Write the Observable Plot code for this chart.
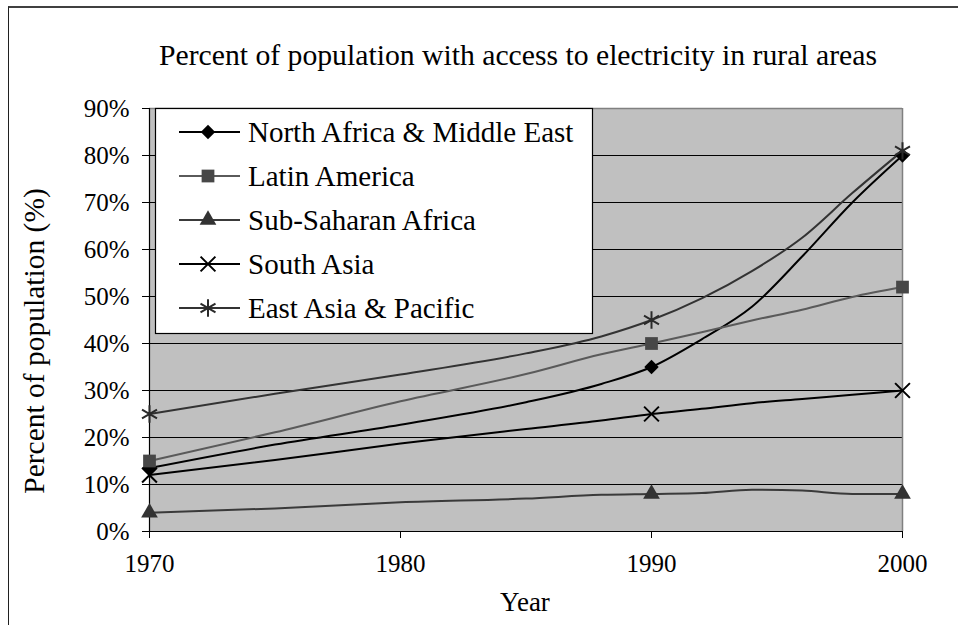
<!DOCTYPE html>
<html>
<head>
<meta charset="utf-8">
<script src="https://cdn.jsdelivr.net/npm/d3@7"></script>
<script src="https://cdn.jsdelivr.net/npm/@observablehq/plot@0.6"></script>
<style>
  html, body { margin: 0; padding: 0; background: #fff; overflow: hidden; }
  #page { position: relative; width: 958px; height: 625px; overflow: hidden; font-family: "Liberation Serif", "Times New Roman", serif; }
  #frame { position: absolute; left: 8px; top: 6px; width: 1000px; height: 700px; border-top: 2px solid #404040; border-left: 1.5px solid #202020; box-sizing: border-box; }
  #titleBox { position: relative; height: 80px; }
  #title { position: absolute; top: 41px; left: 518px; transform: translateX(-50%); white-space: nowrap; font-size: 29.7px; line-height: 29px; color: #000; }
  #chart { position: relative; }
</style>
</head>
<body>
<div id="page">
  <div id="frame"></div>
  <div id="titleBox"><div id="title">Percent of population with access to electricity in rural areas</div></div>
  <div id="chart"></div>
</div>
<script>
// ---- data ----
const years = [1970, 1975, 1980, 1985, 1988, 1990, 1992, 1994, 1996, 1998, 2000];
const seriesNames = ["North Africa & Middle East", "Latin America", "Sub-Saharan Africa", "South Asia", "East Asia & Pacific"];
const northAfricaMiddleEast = [13.5, 18.5, 22.7, 27.5, 31.4, 35, 40.9, 47.8, 58.5, 70, 80];
const latinAmerica = [15, 21.1, 27.7, 33.5, 37.7, 40, 42.4, 44.9, 47.2, 49.9, 52];
const subSaharanAfrica = [4, 4.9, 6.2, 7.0, 7.8, 8, 8.2, 8.9, 8.7, 8.0, 8];
const southAsia = [12, 15.2, 18.7, 21.8, 23.6, 25, 26.1, 27.3, 28.2, 29.1, 30];
const eastAsiaPacific = [25, 29.3, 33.4, 37.9, 41.5, 45, 49.6, 55.4, 62.5, 72, 81];
const markerYears = [1970, 1990, 2000];
const xTicks = [1970, 1980, 1990, 2000];
const yTicks = [0, 10, 20, 30, 40, 50, 60, 70, 80, 90];
const chartTitle = "Percent of population with access to electricity in rural areas";
const xTitle = "Year";
const yTitle = "Percent of population (%)";

// ---- styles ----
const seriesValues = [northAfricaMiddleEast, latinAmerica, subSaharanAfrica, southAsia, eastAsiaPacific];
const styles = {
  "North Africa & Middle East": {line: "#000000", mark: "#000000", symbol: "diamond2", r: 6.5, stroked: false},
  "Latin America": {line: "#5a5a5a", mark: "#474747", symbol: "square", r: 7.2, stroked: false},
  "Sub-Saharan Africa": {line: "#3a3a3a", mark: "#333333", symbol: "triangle", r: 6.2, stroked: false},
  "South Asia": {line: "#000000", mark: "#000000", symbol: "times", r: 6.8, stroked: true},
  "East Asia & Pacific": {line: "#333333", mark: "#2a2a2a", symbol: "asterisk", r: 8.2, stroked: true}
};
const d3Symbols = {diamond2: d3.symbolDiamond2, square: d3.symbolSquare, triangle: d3.symbolTriangle, times: d3.symbolTimes, asterisk: d3.symbolAsterisk};

document.getElementById("title").textContent = chartTitle;

const rows = seriesNames.flatMap((name, i) => years.map((year, j) => ({series: name, year, value: seriesValues[i][j]})));
const markerRows = rows.filter(d => markerYears.includes(d.year));

const lineMarks = seriesNames.map(name => Plot.line(rows.filter(d => d.series === name), {
  x: "year", y: "value", stroke: styles[name].line, strokeWidth: 2, curve: "monotone-x"
}));
const dotMarks = seriesNames.map(name => {
  const s = styles[name];
  return Plot.dot(markerRows.filter(d => d.series === name), s.stroked
    ? {x: "year", y: "value", symbol: s.symbol, r: s.r, stroke: s.mark, strokeWidth: 2, fill: "none"}
    : {x: "year", y: "value", symbol: s.symbol, r: s.r, fill: s.mark, stroke: "none"});
});

const chart = Plot.plot({
  width: 958,
  height: 545,
  marginLeft: 149,
  marginRight: 56,
  marginTop: 28,
  marginBottom: 94,
  style: {fontFamily: "'Liberation Serif', 'Times New Roman', serif", fontSize: "25px", color: "#000", background: "transparent", overflow: "visible"},
  x: {domain: [1970, 2000]},
  y: {domain: [0, 90]},
  marks: [
    Plot.frame({fill: "#c0c0c0", stroke: null}),
    Plot.ruleY(yTicks.filter(t => t > 0 && t < 90), {stroke: "#000", strokeWidth: 1}),
    Plot.ruleY([90], {stroke: "#808080", strokeWidth: 1.5}),
    Plot.ruleX([2000], {stroke: "#808080", strokeWidth: 1.5}),
    Plot.ruleY([0], {stroke: "#000", strokeWidth: 1.2}),
    Plot.ruleX([1970], {stroke: "#000", strokeWidth: 1.2}),
    Plot.axisY({ticks: yTicks, tickSize: 7, tickPadding: 13, label: null, tickFormat: d => d + "%", fontSize: 25, stroke: "#000"}),
    Plot.axisX({ticks: xTicks, tickSize: 7, tickPadding: 16, label: null, tickFormat: d => String(d), fontSize: 25, stroke: "#000"}),
    ...lineMarks,
    ...dotMarks
  ]
});
document.getElementById("chart").appendChild(chart);

// ---- legend and axis titles ----
const svg = d3.select(chart);
const lg = svg.append("g").attr("font-family", "'Liberation Serif', 'Times New Roman', serif").attr("text-anchor", "start");
lg.append("rect").attr("x", 155.5).attr("y", 28.5).attr("width", 437).attr("height", 225)
  .attr("fill", "#fff").attr("stroke", "#000").attr("stroke-width", 1.2);
seriesNames.forEach((name, i) => {
  const s = styles[name];
  const cy = 52 + i * 44;
  lg.append("line").attr("x1", 179).attr("x2", 240).attr("y1", cy).attr("y2", cy)
    .attr("stroke", s.line).attr("stroke-width", 2);
  const p = lg.append("path").attr("transform", `translate(208,${cy})`)
    .attr("d", d3.symbol(d3Symbols[s.symbol], Math.PI * s.r * s.r)());
  if (s.stroked) p.attr("fill", "none").attr("stroke", s.mark).attr("stroke-width", 2);
  else p.attr("fill", s.mark);
  lg.append("text").attr("x", 248).attr("y", cy).attr("dy", "0.35em").attr("text-anchor", "start")
    .attr("font-size", 29).attr("fill", "#000").text(name);
});
svg.append("text").attr("x", 525).attr("y", 522).attr("dy", "0.35em").attr("text-anchor", "middle")
  .attr("font-family", "'Liberation Serif', 'Times New Roman', serif").attr("font-size", 27).attr("fill", "#000").text(xTitle);
svg.append("text").attr("transform", "translate(34,261) rotate(-90)").attr("dy", "0.35em").attr("text-anchor", "middle")
  .attr("font-family", "'Liberation Serif', 'Times New Roman', serif").attr("font-size", 29.5).attr("fill", "#000").text(yTitle);
</script>
</body>
</html>
